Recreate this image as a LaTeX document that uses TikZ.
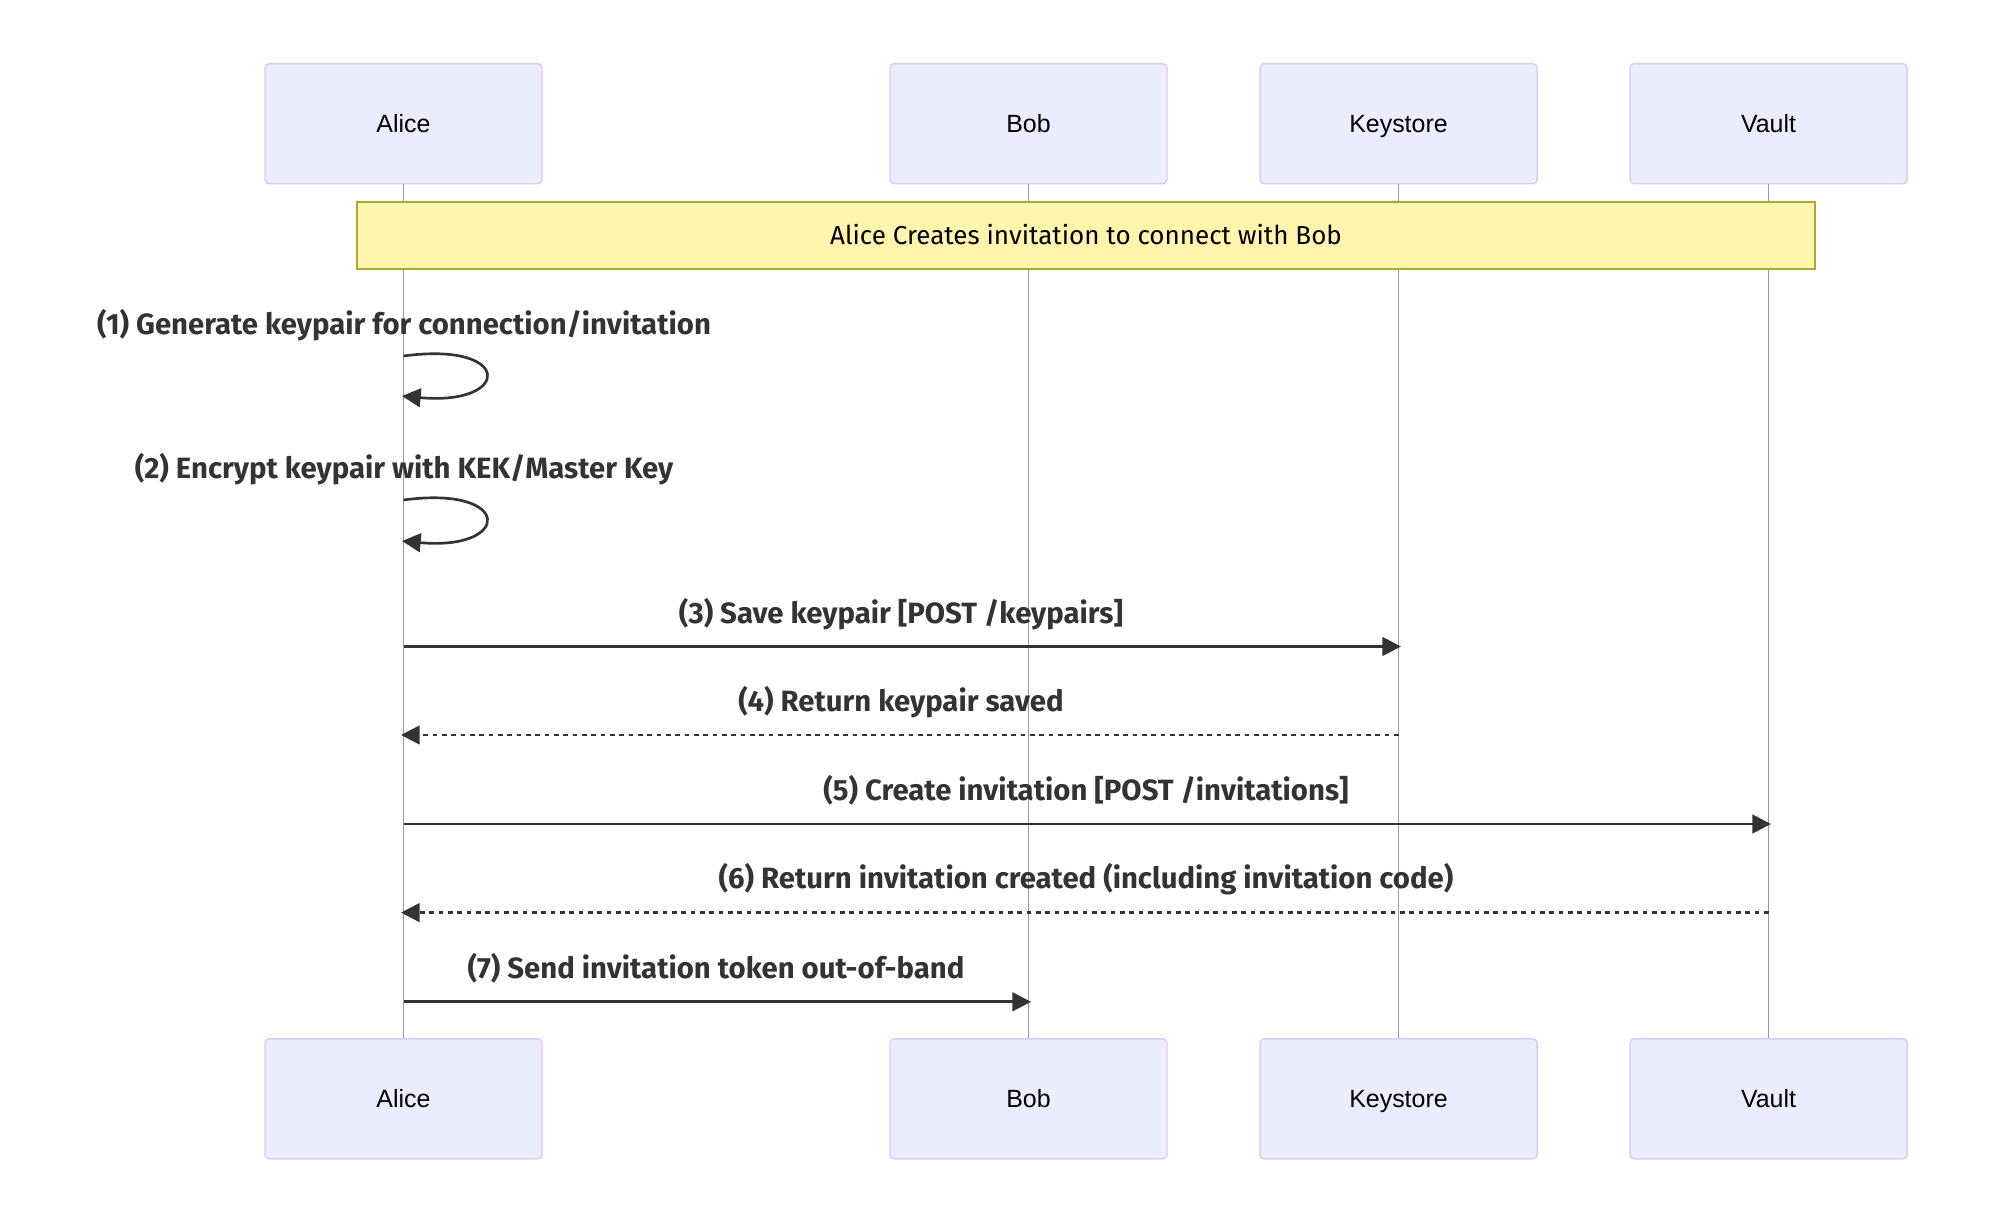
\documentclass[tikz,border=0pt]{standalone}
\usepackage{fontspec}
\setmainfont{Liberation Sans}
\newfontfamily\msgfont{Fira Sans}
\usetikzlibrary{arrows.meta}
\definecolor{actfill}{HTML}{ECECFF}
\definecolor{actdraw}{RGB}{216,206,242}
\definecolor{notefill}{HTML}{FFF5AD}
\definecolor{notedraw}{HTML}{AAAA33}
\definecolor{msgc}{HTML}{333333}
\definecolor{lifec}{HTML}{999999}
\begin{document}
\begin{tikzpicture}[x=0.75pt,y=-0.75pt,
  actor/.style={draw=actdraw,fill=actfill,line width=1.1pt,rounded corners=3pt,
    minimum width=207.75pt,minimum height=90pt,inner sep=0pt,
    text height=13.4pt,text depth=0pt,
    font=\fontsize{18.7pt}{22pt}\selectfont,text=black},
  notebox/.style={draw=notedraw,fill=notefill,line width=1.1pt,
    minimum width=1093.5pt,minimum height=50.25pt,inner sep=0pt,
    text height=13.6pt,text depth=0pt,
    font=\msgfont\fontsize{19.5pt}{23pt}\selectfont,text=black},
  life/.style={draw=lifec,line width=0.8pt},
  msgline/.style={draw=msgc,line width=2pt,-{Triangle[length=14pt,width=14pt]}},
  retline/.style={msgline,dash pattern=on 3.5pt off 3.5pt},
  msg/.style={font=\msgfont\bfseries\fontsize{22pt}{26pt}\selectfont,text=msgc,inner sep=0pt}
]
\useasboundingbox (0,0) rectangle (2016,1206);
% actors
\node[actor] (aliceT) at (403.5,123.7) {Alice};
\node[actor] (bobT) at (1028.5,123.7) {Bob};
\node[actor] (keyT) at (1398.5,123.7) {Keystore};
\node[actor] (vaultT) at (1768.5,123.7) {Vault};
\node[actor] (aliceB) at (403.5,1098.8) {Alice};
\node[actor] (bobB) at (1028.5,1098.8) {Bob};
\node[actor] (keyB) at (1398.5,1098.8) {Keystore};
\node[actor] (vaultB) at (1768.5,1098.8) {Vault};
% lifelines
\draw[life] (aliceT.south) -- (aliceB.north);
\draw[life] (bobT.south) -- (bobB.north);
\draw[life] (keyT.south) -- (keyB.north);
\draw[life] (vaultT.south) -- (vaultB.north);
% note
\node[notebox] (note) at (1086,235.5) {Alice Creates invitation to connect with Bob};
% message end points
\coordinate (l1s) at (403.5,356);
\coordinate (l1e) at (402,396);
\coordinate (l2s) at (403.5,500);
\coordinate (l2e) at (402,541);
\coordinate (a3) at (403.5,646.5);
\coordinate (k3) at (1401,646.5);
\coordinate (k4) at (1398.5,735);
\coordinate (a4) at (401,735);
\coordinate (a5) at (403.5,824);
\coordinate (v5) at (1771,824);
\coordinate (v6) at (1768.5,912.6);
\coordinate (a6) at (401,912.6);
\coordinate (a7) at (403.5,1001.8);
\coordinate (b7) at (1031,1001.8);
% messages
\node[msg] (m1) at (404,325) {(1) Generate keypair for connection/invitation};
\draw[msgline] (l1s) .. controls +(110,-15) and +(110,10) .. (l1e);
\node[msg] (m2) at (404,469) {(2) Encrypt keypair with KEK/Master Key};
\draw[msgline] (l2s) .. controls +(110,-15) and +(110,10) .. (l2e);
\node[msg] (m3) at (901,614.5) {(3) Save keypair [POST /keypairs]};
\draw[msgline] (a3) -- (k3);
\node[msg] (m4) at (901,702) {(4) Return keypair saved};
\draw[retline] (k4) -- (a4);
\node[msg] (m5) at (1086,790.7) {(5) Create invitation [POST /invitations]};
\draw[msgline] (a5) -- (v5);
\node[msg] (m6) at (1086,879) {(6) Return invitation created (including invitation code)};
\draw[retline] (v6) -- (a6);
\node[msg] (m7) at (716,968) {(7) Send invitation token out-of-band};
\draw[msgline] (a7) -- (b7);
\end{tikzpicture}
\end{document}
